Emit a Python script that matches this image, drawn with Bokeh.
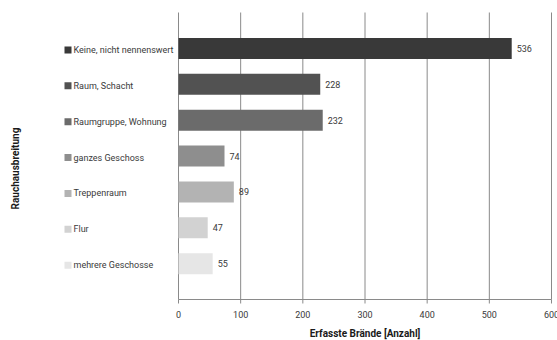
from bokeh.plotting import figure
from bokeh.models import Range1d, ColumnDataSource
from bokeh.embed import file_html
from bokeh.resources import INLINE
from bokeh.core.properties import value
import math

# ---- data ----
categories = ["Keine, nicht nennenswert", "Raum, Schacht", "Raumgruppe, Wohnung",
              "ganzes Geschoss", "Treppenraum", "Flur", "mehrere Geschosse"]
counts = [536, 228, 232, 74, 89, 47, 55]
bar_colors = ["#393939", "#525252", "#6b6b6b", "#8e8e8e", "#b3b3b3", "#d2d2d2", "#e6e6e6"]
x_ticks = [0, 100, 200, 300, 400, 500, 600]
x_title = "Erfasste Brände [Anzahl]"
y_title = "Rauchausbreitung"

# ---- geometry (pixel layout helpers) ----
W, H = 557, 340
X0_PX, X600_PX = 178, 551
K = (X600_PX - X0_PX) / 600.0          # px per unit
ROW = 35.875                             # px per category row
TOP_PX = 12                              # px where y = -1
x_start = -X0_PX / K
x_end = x_start + W / K
y_top = -1 - TOP_PX / ROW
y_bottom = y_top + H / ROW

def px_to_x(px):
    return x_start + px / K

def dy(px):
    return px / ROW

FONT = "Roboto"
TXT = "#3a3a3a"
GRID = "#8a8a8a"

p = figure(width=W, height=H, output_backend="svg", toolbar_location=None,
           x_range=Range1d(x_start, x_end), y_range=Range1d(y_bottom, y_top),
           min_border=0, outline_line_color=None)
p.axis.visible = False
p.grid.visible = False
p.background_fill_color = "white"
p.border_fill_color = "white"

n = len(categories)
rows = list(range(n))

# vertical gridlines
p.segment(x0=x_ticks, y0=[-1] * len(x_ticks), x1=x_ticks, y1=[n] * len(x_ticks),
          line_color=GRID, line_width=1)
# axis baseline and ticks
p.segment(x0=[x_ticks[0]], y0=[n], x1=[x_ticks[-1]], y1=[n], line_color=GRID, line_width=1)
p.segment(x0=x_ticks, y0=[n] * len(x_ticks), x1=x_ticks, y1=[n + dy(4)] * len(x_ticks),
          line_color=GRID, line_width=1)

# bars
src = ColumnDataSource(dict(y=rows, right=counts, color=bar_colors, cat=categories,
                            lbl=[str(c) for c in counts]))
p.hbar(y="y", left=0, right="right", height=21 / ROW, fill_color="color",
       line_color=None, source=src)

# value labels
p.text(x="right", y="y", text="lbl", x_offset=5, source=src,
       text_font=value(FONT), text_font_size="9px", text_color=TXT,
       text_align="left", text_baseline="middle")

# category labels with colour squares
lab_y = [r + dy(1.5) for r in rows]
p.scatter(x=[px_to_x(67.5)] * n, y=lab_y, marker="square", size=7,
          fill_color=bar_colors, line_color=None)
p.text(x=[px_to_x(73)] * n, y=lab_y, text=categories,
       text_font=value(FONT), text_font_size="9px", text_color=TXT,
       text_align="left", text_baseline="middle")

# tick labels
p.text(x=x_ticks, y=[n + dy(15)] * len(x_ticks), text=[str(t) for t in x_ticks],
       text_font=value(FONT), text_font_size="9px", text_color=TXT,
       text_align="center", text_baseline="middle")

# axis titles
p.text(x=[(x_ticks[0] + x_ticks[-1]) / 2], y=[n + dy(34)], text=[x_title],
       text_font=value(FONT), text_font_size="10px", text_font_style="bold",
       text_color="#1a1a1a", text_align="center", text_baseline="middle")
p.text(x=[px_to_x(15)], y=[y_top + dy(168)], text=[y_title], angle=math.pi / 2,
       text_font=value(FONT), text_font_size="10px", text_font_style="bold",
       text_color="#1a1a1a", text_align="center", text_baseline="middle")

open("out.html", "w").write(file_html(p, INLINE))
